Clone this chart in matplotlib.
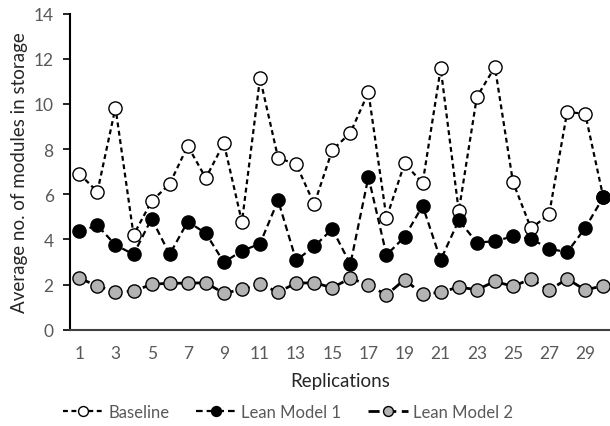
import numpy as np
import matplotlib.pyplot as plt

plt.rcParams['font.family'] = ['Lato', 'DejaVu Sans']

replications = np.arange(1, 31)

baseline = [6.91, 6.11, 9.84, 4.20, 5.69, 6.46, 8.14, 6.72, 8.26, 4.77,
            11.15, 7.61, 7.33, 5.56, 7.96, 8.72, 10.52, 4.95, 7.37, 6.49,
            11.58, 5.25, 10.31, 11.64, 6.54, 4.49, 5.11, 9.65, 9.56, 5.87]
lean1 = [4.36, 4.62, 3.75, 3.34, 4.92, 3.34, 4.79, 4.27, 2.99, 3.49,
         3.81, 5.73, 3.07, 3.69, 4.46, 2.90, 6.77, 3.31, 4.11, 5.49,
         3.09, 4.85, 3.86, 3.92, 4.14, 4.02, 3.59, 3.43, 4.51, 5.87]
lean2 = [2.28, 1.94, 1.67, 1.71, 2.01, 2.06, 2.06, 2.08, 1.61, 1.79,
         2.01, 1.67, 2.06, 2.08, 1.86, 2.28, 1.98, 1.54, 2.22, 1.57,
         1.66, 1.89, 1.77, 2.14, 1.92, 2.25, 1.75, 2.25, 1.76, 1.95]

x_ticks = list(range(1, 31, 2))
y_ticks = list(range(0, 15, 2))

grey = '#595959'

fig = plt.figure(figsize=(6.1, 4.27), dpi=100)
ax = fig.add_axes([70.3 / 610, 96.3 / 427, (610 - 70.3) / 610, 316 / 427])

ax.plot(replications, baseline, linestyle=(0, (2.2, 1.6)), color='black', lw=1.6,
        marker='o', ms=9.5, mfc='white', mec='black', mew=1.0, label='Baseline')
ax.plot(replications, lean1, linestyle=(0, (3, 1.8)), color='black', lw=1.6,
        marker='o', ms=9.5, mfc='black', mec='black', mew=1.0, label='Lean Model 1')
ax.plot(replications, lean2, linestyle=(0, (4, 2)), color='black', lw=2.0,
        marker='o', ms=9.5, mfc='#b3b3b3', mec='black', mew=1.0, label='Lean Model 2')

ax.set_xlim(0.5, 30.37)
ax.set_ylim(0, 14)
ax.set_xticks(x_ticks)
ax.set_yticks(y_ticks)
ax.tick_params(axis='x', length=0, pad=11, labelsize=12.5, labelcolor=grey)
ax.tick_params(axis='y', length=5, width=1.2, direction='out', pad=7,
               labelsize=12.5, labelcolor=grey)

for side in ['top', 'right']:
    ax.spines[side].set_visible(False)
ax.spines['left'].set_linewidth(1.5)
ax.spines['bottom'].set_linewidth(1.5)
ax.spines['bottom'].set_color('#404040')

ax.set_xlabel('Replications', fontsize=13.5, color='#262626', labelpad=8)
ax.set_ylabel('Average no. of modules in storage', fontsize=13.5, color='#262626',
              labelpad=4)

fig.legend(loc='lower center', bbox_to_anchor=(0.472, -0.02), ncol=3, frameon=False,
           fontsize=12, labelcolor=grey, handlelength=2.4, columnspacing=1.6,
           handletextpad=0.3, markerscale=0.75)

fig.savefig('out.png', dpi=100)
